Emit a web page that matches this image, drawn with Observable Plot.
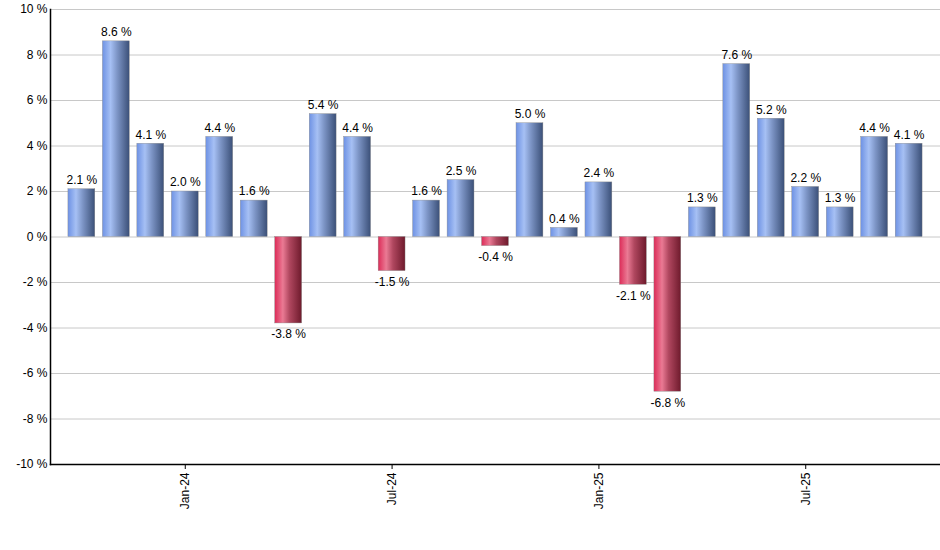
<!DOCTYPE html>
<html>
<head>
<meta charset="utf-8">
<script src="https://cdn.jsdelivr.net/npm/d3@7"></script>
<script src="https://cdn.jsdelivr.net/npm/@observablehq/plot@0.6"></script>
<style>
  html, body { margin: 0; padding: 0; background: #fff; }
  #chart { width: 940px; height: 550px; }
  svg { font-family: "Liberation Sans", Arial, sans-serif; }
</style>
</head>
<body>
<div id="chart"></div>
<script>
const months = ["Oct-23","Nov-23","Dec-23","Jan-24","Feb-24","Mar-24","Apr-24","May-24","Jun-24","Jul-24","Aug-24","Sep-24","Oct-24","Nov-24","Dec-24","Jan-25","Feb-25","Mar-25","Apr-25","May-25","Jun-25","Jul-25","Aug-25","Sep-25","Oct-25"];
const values = [2.1, 8.6, 4.1, 2.0, 4.4, 1.6, -3.8, 5.4, 4.4, -1.5, 1.6, 2.5, -0.4, 5.0, 0.4, 2.4, -2.1, -6.8, 1.3, 7.6, 5.2, 2.2, 1.3, 4.4, 4.1];
const xTicks = ["Jan-24","Jul-24","Jan-25","Jul-25"];
const yTicks = [-10,-8,-6,-4,-2,0,2,4,6,8,10];

const data = months.map((m, i) => ({month: m, value: values[i]}));
const pos = data.filter(d => d.value >= 0);
const neg = data.filter(d => d.value < 0);
const fmt = d => d.value.toFixed(1) + " %";

const plot = Plot.plot({
  width: 940,
  height: 550,
  marginLeft: 50,
  marginRight: 0,
  marginTop: 9,
  marginBottom: 86,
  style: {fontFamily: "Liberation Sans, Arial, sans-serif", fontSize: "12px", color: "#000", background: "#fff"},
  x: {domain: months, paddingInner: 0.22, paddingOuter: 0.52, round: false, label: null},
  y: {domain: [-10, 10], label: null},
  marks: [
    Plot.gridY(yTicks, {stroke: "#c8c8c8", strokeOpacity: 1}),
    Plot.barY(pos, {x: "month", y: "value", fill: "url(#gradBlue)", stroke: "#8a8a8a", strokeWidth: 0.4}),
    Plot.barY(neg, {x: "month", y: "value", fill: "url(#gradRed)", stroke: "#8a8a8a", strokeWidth: 0.4}),
    Plot.text(pos, {x: "month", y: "value", text: fmt, dy: -9, fontSize: 12, fill: "#000"}),
    Plot.text(neg, {x: "month", y: "value", text: fmt, dy: 11, fontSize: 12, fill: "#000"}),
    Plot.axisY(yTicks, {tickSize: 0, tickPadding: 3, tickFormat: d => d + " %", fontSize: 12, fill: "#000"}),
    Plot.axisX(xTicks, {tickSize: 5, tickRotate: -90, tickPadding: 3, fontSize: 12, fill: "#000", stroke: "#000"}),
    Plot.frame({anchor: "left", stroke: "#000", strokeWidth: 1.5}),
    Plot.frame({anchor: "bottom", stroke: "#000", strokeWidth: 1.5})
  ]
});

const ns = "http://www.w3.org/2000/svg";
const defs = document.createElementNS(ns, "defs");
function grad(id, stops) {
  const g = document.createElementNS(ns, "linearGradient");
  g.setAttribute("id", id);
  g.setAttribute("x1", "0"); g.setAttribute("y1", "0");
  g.setAttribute("x2", "1"); g.setAttribute("y2", "0");
  stops.forEach(([o, c]) => {
    const s = document.createElementNS(ns, "stop");
    s.setAttribute("offset", o);
    s.setAttribute("stop-color", c);
    g.appendChild(s);
  });
  defs.appendChild(g);
}
grad("gradBlue", [["0", "#6e92e4"], ["0.3", "#a6c0f4"], ["0.55", "#7d95c6"], ["1", "#3b5078"]]);
grad("gradRed", [["0", "#dc2c58"], ["0.3", "#ea7a94"], ["0.55", "#b0475f"], ["1", "#6e1a2c"]]);
plot.insertBefore(defs, plot.firstChild);

document.getElementById("chart").appendChild(plot);
</script>
</body>
</html>
